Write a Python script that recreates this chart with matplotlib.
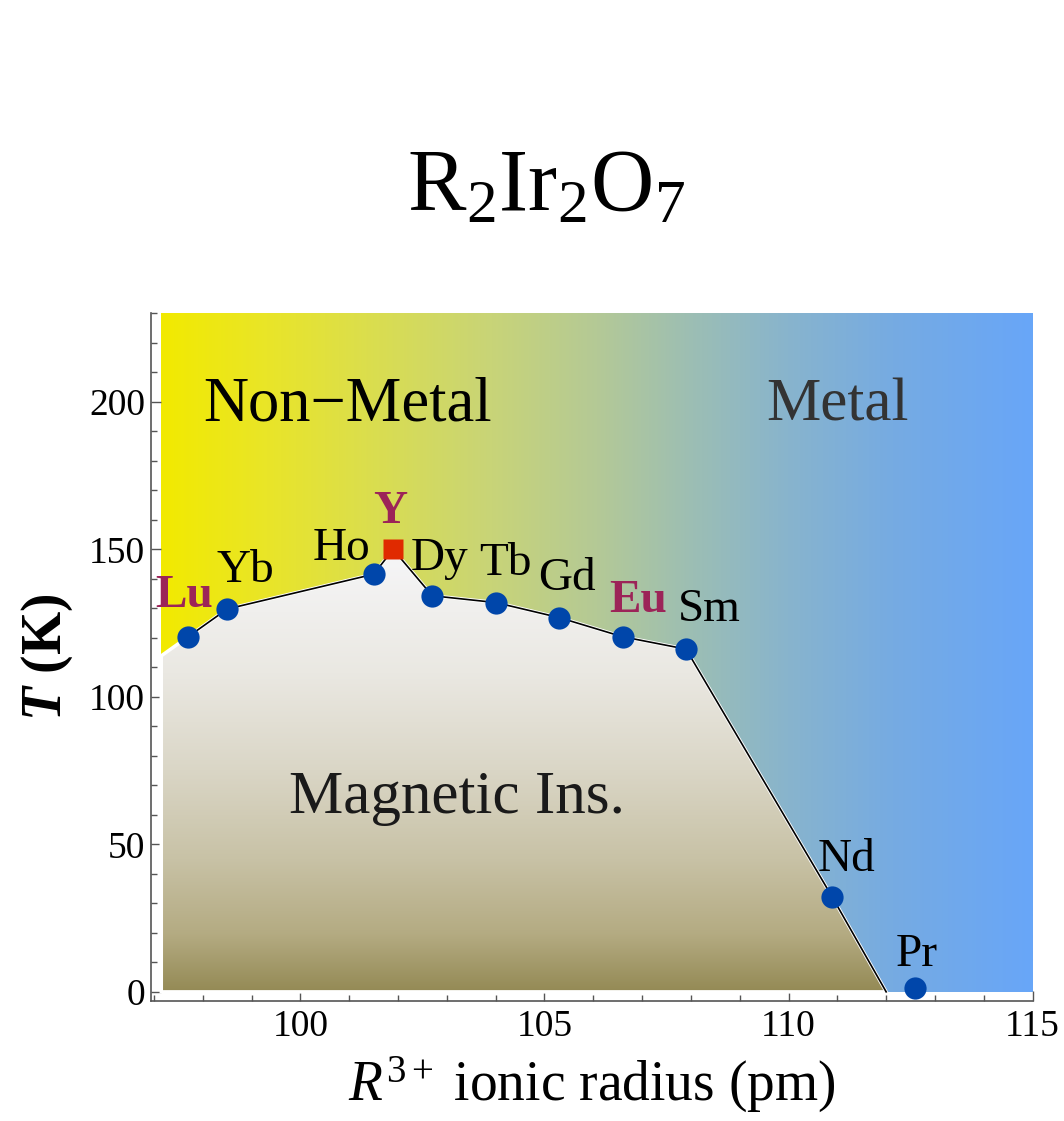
import numpy as np
import matplotlib
matplotlib.use("Agg")
import matplotlib.pyplot as plt
from matplotlib.colors import LinearSegmentedColormap
from matplotlib.patches import Polygon
from matplotlib.ticker import MultipleLocator

plt.rcParams["font.family"] = ["Liberation Serif", "DejaVu Serif"]
plt.rcParams["mathtext.fontset"] = "custom"
plt.rcParams["mathtext.rm"] = "Liberation Serif"
plt.rcParams["mathtext.it"] = "Liberation Serif:italic"
plt.rcParams["mathtext.bf"] = "Liberation Serif:bold"
plt.rcParams["mathtext.bfit"] = "Liberation Serif:italic:bold"

# R3+ ionic radius (pm) and transition temperature (K) for each rare earth
elements = ["Lu", "Yb", "Ho", "Y", "Dy", "Tb", "Gd", "Eu", "Sm", "Nd", "Pr"]
radius = [97.7, 98.5, 101.5, 101.9, 102.7, 104.0, 105.3, 106.6, 107.9, 110.9, 112.6]
t_mi = [120.4, 129.8, 141.6, 150.0, 134.3, 132.0, 126.9, 120.4, 116.2, 32.0, 1.2]
highlight = ["Lu", "Y", "Eu"]

# phase boundary closes at T = 0 here
r_end = 112.0

# label offsets in pixels (dx, baseline dy)
label_offsets = {
    "Lu": (-4, 30), "Yb": (18, 27), "Ho": (-32, 14), "Y": (-3, 26),
    "Dy": (7, 26), "Tb": (10, 28), "Gd": (8, 28), "Eu": (15, 25),
    "Sm": (23, 28), "Nd": (14, 26), "Pr": (1, 22),
}

x_lo, x_hi = 96.93, 115.0
y_lo, y_hi = -3.0, 230.0
fill_left = 97.15

fig = plt.figure(figsize=(10.64, 11.21), dpi=100)
ax = fig.add_axes([0.1415, 0.10732, 0.829, 0.61302])

# horizontal yellow -> blue background
bg_cmap = LinearSegmentedColormap.from_list("bg", [
    (0.00, (242/255, 234/255, 0/255)),
    (0.12, (233/255, 229/255, 40/255)),
    (0.22, (221/255, 223/255, 72/255)),
    (0.38, (200/255, 212/255, 120/255)),
    (0.50, (180/255, 201/255, 150/255)),
    (0.61, (156/255, 190/255, 180/255)),
    (0.72, (136/255, 180/255, 205/255)),
    (0.84, (118/255, 171/255, 226/255)),
    (1.00, (104/255, 166/255, 248/255)),
])
grad = np.linspace(0, 1, 512).reshape(1, -1)
ax.imshow(grad, cmap=bg_cmap, extent=[fill_left, x_hi, 0, y_hi],
          aspect="auto", origin="lower", zorder=0, interpolation="bicubic")

# magnetic insulator region
ins_r = [r for e, r in zip(elements, radius) if e != "Pr"]
ins_t = [t for e, t in zip(elements, t_mi) if e != "Pr"]
slope = (ins_t[1] - ins_t[0]) / (ins_r[1] - ins_r[0])
t_left = ins_t[0] + (fill_left - ins_r[0]) * slope
poly_x = [fill_left] + ins_r + [r_end, fill_left]
poly_y = [t_left] + ins_t + [0, 0]
poly = Polygon(np.column_stack([poly_x, poly_y]), closed=True,
               facecolor="none", edgecolor="white", lw=2.5, zorder=2)
ax.add_patch(poly)

mi_cmap = LinearSegmentedColormap.from_list("mi", [
    (0.00, (148/255, 138/255, 85/255)),
    (0.13, (180/255, 171/255, 130/255)),
    (0.30, (200/255, 194/255, 166/255)),
    (0.50, (218/255, 214/255, 198/255)),
    (0.72, (234/255, 232/255, 226/255)),
    (1.00, (246/255, 246/255, 248/255)),
])
vgrad = np.linspace(0, 1, 512).reshape(-1, 1)
im = ax.imshow(vgrad, cmap=mi_cmap, extent=[fill_left, x_hi, 0, 150],
               aspect="auto", origin="lower", zorder=1, interpolation="bicubic")
im.set_clip_path(poly)

# boundary line
ax.plot(ins_r + [r_end], ins_t + [0], color="black", lw=1.2, zorder=3)

# points
for e, r, t in zip(elements, radius, t_mi):
    if e == "Y":
        ax.plot(r, t, marker="s", ms=14.5, color="#E02A00", mec="none", zorder=5)
    else:
        ax.plot(r, t, marker="o", ms=16, color="#0046AA", mec="none", zorder=5)
    dx, dy = label_offsets[e]
    bold = e in highlight
    ax.annotate(e, (r, t), xytext=(dx, dy), textcoords="offset pixels",
                ha="center", va="baseline", fontsize=34,
                fontweight="bold" if bold else "normal",
                color="#9C2458" if bold else "black", zorder=6)

# region names
ax.text(100.97, 193.6, "Non\u2212Metal", fontsize=45, ha="center", va="baseline", zorder=4)
ax.text(111.0, 193.6, "Metal", fontsize=44, ha="center", va="baseline", color="#333333", zorder=4)
ax.text(103.2, 60.7, "Magnetic Ins.", fontsize=44, ha="center", va="baseline", color="#1a1a1a", zorder=4)

ax.set_xlim(x_lo, x_hi)
ax.set_ylim(y_lo, y_hi)
ax.xaxis.set_major_locator(MultipleLocator(5))
ax.xaxis.set_minor_locator(MultipleLocator(1))
ax.yaxis.set_major_locator(MultipleLocator(50))
ax.yaxis.set_minor_locator(MultipleLocator(10))
ax.set_xticks([100, 105, 110, 115])
ax.tick_params(which="both", direction="in", color="#555555", width=1)
ax.tick_params(which="major", length=7, labelsize=27)
ax.tick_params(axis="x", which="major", pad=6)
ax.tick_params(axis="y", which="major", pad=4)
ax.tick_params(which="minor", length=4)
for side in ["top", "right"]:
    ax.spines[side].set_visible(False)
for side in ["left", "bottom"]:
    ax.spines[side].set_color("#555555")
    ax.spines[side].set_linewidth(1.2)

ax.set_xlabel(r"$R^{3+}$ ionic radius (pm)", fontsize=40, labelpad=8)
ax.set_ylabel(r"$\mathbfit{T}$ (K)", fontsize=40, fontweight="bold", labelpad=10)

fig.text(546 / 1064, 1 - 210 / 1121, r"$\mathrm{R_2Ir_2O_7}$", fontsize=63,
         ha="center", va="baseline")

fig.savefig("out.png", dpi=100)
